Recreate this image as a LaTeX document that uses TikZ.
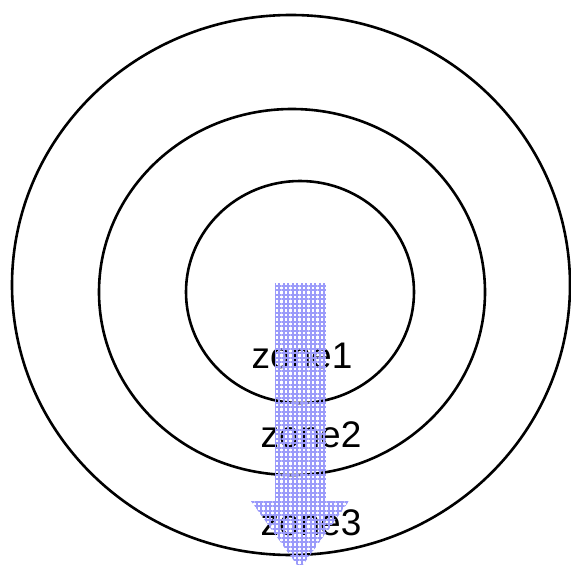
\documentclass[tikz,border=0pt]{standalone}
\usepackage{fontspec}
\setmainfont{Liberation Sans}
\usetikzlibrary{patterns.meta}
\definecolor{arrowblue}{RGB}{155,155,250}
\tikzset{
  ring/.style={draw=black, line width=2.6pt},
  zonelabel/.style={anchor=base, inner sep=0pt, font=\fontsize{37}{42}\selectfont},
  gridarrow/.style={pattern={Lines[angle=0,distance=4.5pt,line width=2pt]}, pattern color=arrowblue},
  gridarrowv/.style={pattern={Lines[angle=90,distance=4.5pt,line width=2pt]}, pattern color=arrowblue}
}
\begin{document}
\begin{tikzpicture}[x=1pt,y=-1pt]
\useasboundingbox (0,0) rectangle (571,565);
\draw[ring] (291,285) ellipse [x radius=279, y radius=270];
\draw[ring] (292,292) ellipse [x radius=193, y radius=183];
\draw[ring] (300,292) ellipse [x radius=114, y radius=111];
\node[zonelabel] (z1) at (302,368) {zone1};
\node[zonelabel] (z2) at (311,447) {zone2};
\node[zonelabel] (z3) at (311,535) {zone3};
\path[gridarrow] (275,283) -- (326,283) -- (326,501) -- (349,501) -- (300,569) -- (251,501) -- (275,501) -- cycle;
\path[gridarrowv] (275,283) -- (326,283) -- (326,501) -- (349,501) -- (300,569) -- (251,501) -- (275,501) -- cycle;
\end{tikzpicture}
\end{document}
